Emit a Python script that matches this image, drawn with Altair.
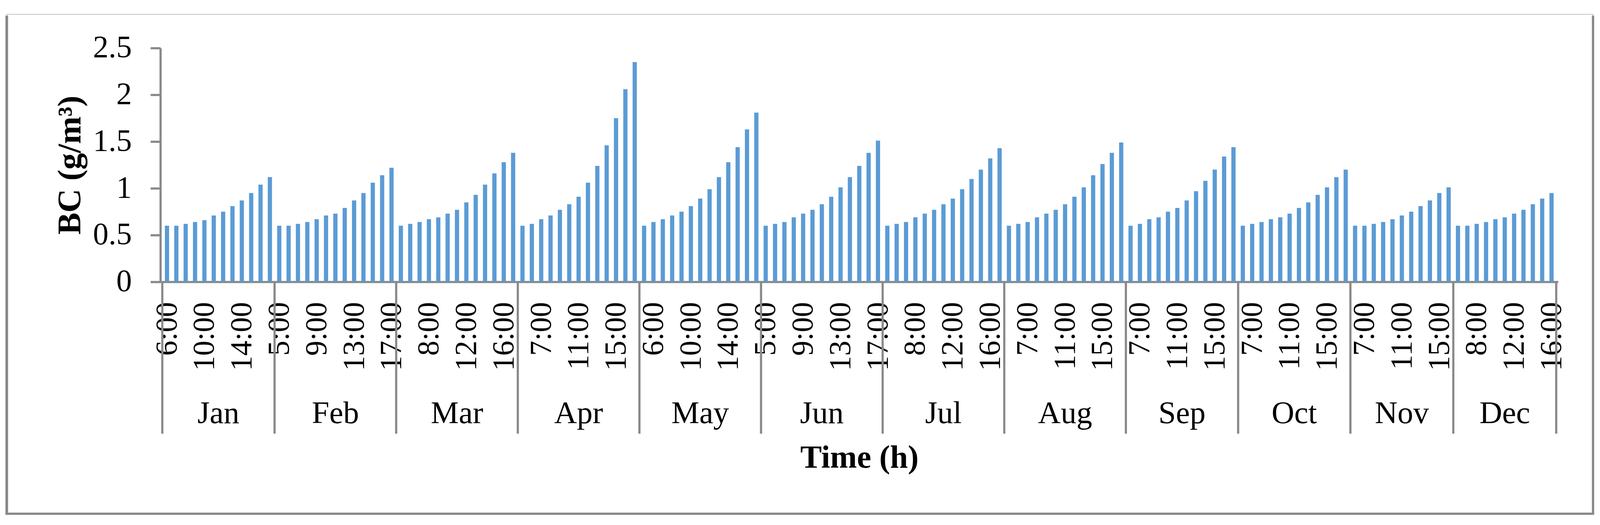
import json
import altair as alt
import pandas as pd

# ---------------- data ----------------
months = ["Jan", "Feb", "Mar", "Apr", "May", "Jun", "Jul", "Aug", "Sep", "Oct", "Nov", "Dec"]
start_hours = [6, 5, 5, 5, 5, 5, 5, 5, 6, 6, 6, 6]

bc_jan = [0.60, 0.60, 0.62, 0.64, 0.66, 0.71, 0.75, 0.81, 0.87, 0.95, 1.04, 1.12]
bc_feb = [0.60, 0.60, 0.62, 0.64, 0.67, 0.71, 0.73, 0.79, 0.87, 0.95, 1.06, 1.14, 1.22]
bc_mar = [0.60, 0.62, 0.64, 0.67, 0.69, 0.73, 0.77, 0.85, 0.93, 1.04, 1.16, 1.28, 1.38]
bc_apr = [0.60, 0.62, 0.67, 0.71, 0.77, 0.83, 0.91, 1.06, 1.24, 1.46, 1.75, 2.06, 2.35]
bc_may = [0.60, 0.64, 0.67, 0.71, 0.75, 0.81, 0.89, 0.99, 1.12, 1.28, 1.44, 1.63, 1.81]
bc_jun = [0.60, 0.62, 0.64, 0.69, 0.73, 0.77, 0.83, 0.91, 1.01, 1.12, 1.24, 1.38, 1.51]
bc_jul = [0.60, 0.62, 0.64, 0.69, 0.73, 0.77, 0.83, 0.89, 0.99, 1.10, 1.20, 1.32, 1.43]
bc_aug = [0.60, 0.62, 0.64, 0.69, 0.73, 0.77, 0.83, 0.91, 1.01, 1.14, 1.26, 1.38, 1.49]
bc_sep = [0.60, 0.62, 0.67, 0.69, 0.75, 0.79, 0.87, 0.97, 1.08, 1.20, 1.34, 1.44]
bc_oct = [0.60, 0.62, 0.64, 0.67, 0.69, 0.73, 0.79, 0.85, 0.93, 1.01, 1.12, 1.20]
bc_nov = [0.60, 0.60, 0.62, 0.64, 0.67, 0.71, 0.75, 0.81, 0.87, 0.95, 1.01]
bc_dec = [0.60, 0.60, 0.62, 0.64, 0.67, 0.69, 0.73, 0.77, 0.83, 0.89, 0.95]

y_ticks = [0, 0.5, 1, 1.5, 2, 2.5]

series = [bc_jan, bc_feb, bc_mar, bc_apr, bc_may, bc_jun,
          bc_jul, bc_aug, bc_sep, bc_oct, bc_nov, bc_dec]

# ---------------- tables built from the lists ----------------
rows, hour_labels, bounds, centers = [], [], [-0.5], []
i = 0
for m, sh, vals in zip(months, start_hours, series):
    first = i
    for k, v in enumerate(vals):
        lab = f"{sh + k}:00"
        rows.append({"idx": i, "month": m, "hour": lab, "bc": v})
        hour_labels.append(lab)
        i += 1
    bounds.append(i - 0.5)
    centers.append({"idx": (first + i - 1) / 2, "month": m})
N = i

bars_df = pd.DataFrame(rows)
bounds_df = pd.DataFrame({"idx": bounds})
centers_df = pd.DataFrame(centers)

# ---------------- layout / style ----------------
W, H = 3644, 610
FONT = "Liberation Serif"
GRAY = "#898989"
BLUE = "#5B9BD5"
LW = 5.7

xscale = alt.Scale(domain=[-0.5, N - 0.5], nice=False, zero=False)

bars = alt.Chart(bars_df).mark_bar(color=BLUE, size=11, orient="vertical").encode(
    x=alt.X("idx:Q", scale=xscale,
            axis=alt.Axis(values=list(range(0, N, 4)),
                          labelExpr=json.dumps(hour_labels) + "[datum.value]",
                          labelAngle=270, labelFont=FONT, labelFontSize=79,
                          labelColor="black", labelPadding=52,
                          ticks=False, tickSize=0,
                          domainColor=GRAY, domainWidth=LW,
                          labelOverlap=False, labelFlush=False,
                          title="Time (h)", titleFont=FONT, titleFontSize=84,
                          titleFontWeight="bold", titleColor="black",
                          titleX=W / 2, titleY=459, titleAlign="center",
                          titleBaseline="middle")),
    y=alt.Y("bc:Q", scale=alt.Scale(domain=[0, 2.5], nice=False, zero=True),
            axis=alt.Axis(values=y_ticks, format="~g",
                          labelFont=FONT, labelFontSize=81, labelColor="black",
                          labelPadding=49, tickSize=26, tickWidth=LW,
                          tickColor=GRAY, domainColor=GRAY, domainWidth=LW,
                          title="BC (g/m³)", titleFont=FONT, titleFontSize=86,
                          titleFontWeight="bold", titleColor="black",
                          titleAngle=270, titleX=-235, titleY=H / 2,
                          titleAlign="center", titleBaseline="middle")),
)

separators = alt.Chart(bounds_df).mark_rule(color=GRAY, strokeWidth=LW).encode(
    x=alt.X("idx:Q", scale=xscale),
    y=alt.value(H),
    y2=alt.value(H + 396),
)

month_text = alt.Chart(centers_df).mark_text(
    font=FONT, fontSize=82, color="black", align="center", baseline="middle"
).encode(
    x=alt.X("idx:Q", scale=xscale),
    y=alt.value(H + 344),
    text="month:N",
)

one = alt.Data(values=[{"k": 1}])
BL, BR, BT, BB = -400.5, W + 91, -88, H + 605
frame = alt.Chart(one).mark_rect(fillOpacity=0, stroke=GRAY, strokeWidth=1).encode(
    x=alt.value(BL), x2=alt.value(BR), y=alt.value(BT), y2=alt.value(BB),
)
edge_left = alt.Chart(one).mark_rule(color=GRAY, strokeWidth=7).encode(
    x=alt.value(BL), y=alt.value(BT + 3.5), y2=alt.value(BB + 3))
edge_right = alt.Chart(one).mark_rule(color=GRAY, strokeWidth=6).encode(
    x=alt.value(BR), y=alt.value(BT + 3.5), y2=alt.value(BB + 3))
edge_bottom = alt.Chart(one).mark_rule(color=GRAY, strokeWidth=6).encode(
    x=alt.value(BL), x2=alt.value(BR + 3), y=alt.value(BB))

chart = alt.layer(frame, edge_left, edge_right, edge_bottom, separators, bars, month_text).properties(
    width=W, height=H,
    padding={"left": 6, "top": 16, "right": 4, "bottom": 0},
    background="white",
).configure_view(stroke=None).configure_axis(grid=False)

chart.save("out.html", embed_options={"renderer": "svg", "actions": False})
